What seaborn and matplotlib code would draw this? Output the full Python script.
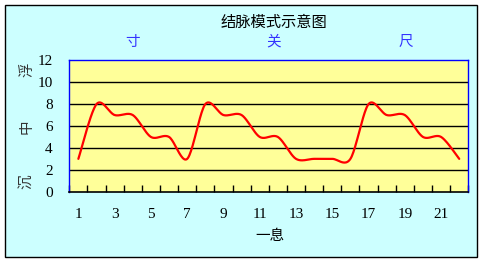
import numpy as np
import pandas as pd
import matplotlib
matplotlib.use("Agg")
import matplotlib.pyplot as plt
from matplotlib.patches import Rectangle
from matplotlib.ticker import FixedLocator
import seaborn as sns

# ---- data ----
breaths = list(range(1, 23))
pulse = [3, 8, 7, 7, 5, 5, 3, 8, 7, 7, 5, 5, 3, 3, 3, 3, 8, 7, 7, 5, 5, 3]
title = "结脉模式示意图"
positions = ["寸", "关", "尺"]
depth_labels = ["浮", "中", "沉"]
x_label = "一息"
y_ticks = [0, 2, 4, 6, 8, 10, 12]
x_ticklabels = [1, 3, 5, 7, 9, 11, 13, 15, 17, 19, 21]

sns.set_theme(style="white")
plt.rcParams['font.family'] = ['Noto Sans CJK SC', 'DejaVu Sans']

W, H = 484, 263
fig = plt.figure(figsize=(W / 100, H / 100), dpi=100)
fig.patch.set_facecolor("white")
fig.patches.append(Rectangle((5 / W, 1 - 257 / H), 472 / W, 252 / H,
                             transform=fig.transFigure, facecolor="#CCFFFF",
                             edgecolor="black", linewidth=1.0, zorder=-10))

ax = fig.add_axes([69.3 / W, 1 - 191.7 / H, 399 / W, 131.4 / H])
ax.set_zorder(1)
ax.set_facecolor("#FFFF99")


# smoothed (Excel-like) curve rendered from the data
def smooth(xs, ys, n=24, k=6.5):
    xs = np.asarray(xs, float)
    ys = np.asarray(ys, float)
    P = np.column_stack([xs, ys])
    out = []
    for i in range(len(P) - 1):
        p0 = P[i - 1] if i > 0 else P[i]
        p1 = P[i]
        p2 = P[i + 1]
        p3 = P[i + 2] if i + 2 < len(P) else P[i + 1]
        c1 = p1 + (p2 - p0) / k
        c2 = p2 - (p3 - p1) / k
        t = np.linspace(0, 1, n)[:, None]
        seg = ((1 - t) ** 3) * p1 + 3 * ((1 - t) ** 2) * t * c1 + 3 * (1 - t) * t ** 2 * c2 + t ** 3 * p2
        out.append(seg if i == 0 else seg[1:])
    out = np.vstack(out)
    return out[:, 0], out[:, 1]


sx, sy = smooth(breaths, pulse)
df = pd.DataFrame({"x": sx, "y": sy})
sns.lineplot(data=df, x="x", y="y", sort=False, color="#FF0000", linewidth=1.6, ax=ax, zorder=3)

ax.set_xlim(0.5, 22.5)
ax.set_ylim(0, 12)
for v in y_ticks[1:-1]:
    ax.axhline(v, color="black", linewidth=1.0, zorder=1)

ax.set_yticks(y_ticks)
ax.set_yticklabels([str(v) for v in y_ticks], fontfamily="Liberation Serif", fontsize=11)
ax.set_xticks(x_ticklabels)
ax.set_xticklabels([str(v) for v in x_ticklabels], fontfamily="Liberation Serif", fontsize=11)
ax.xaxis.set_minor_locator(FixedLocator(np.arange(0.5, 23, 1.0)))
ax.tick_params(axis="x", which="major", length=0, pad=12, colors="black")
ax.tick_params(axis="x", which="minor", length=5, width=1, direction="in", color="black", bottom=True)
ax.tick_params(axis="y", which="major", length=0, pad=12, colors="black")
ax.set_xlabel("")
ax.set_ylabel("")

for side in ["left", "top", "right"]:
    ax.spines[side].set_color("#0000FF")
    ax.spines[side].set_linewidth(1.0)
ax.spines["bottom"].set_color("black")
ax.spines["bottom"].set_linewidth(1.2)

def ft(x, y, s, **kw):
    fig.text(x / W, 1 - y / H, s, ha="center", va="center", **kw)

ft(274, 22.7, title, fontsize=11, color="black")
for px, s in zip([133, 274, 406], positions):
    ft(px, 41.7, s, fontsize=10.5, color="#3333FF")
for py, s in zip([70, 127, 182], depth_labels):
    ft(27, py, s, fontsize=10.5, color="#333333", rotation=90)
ft(270, 236, x_label, fontsize=10.5, color="black")

fig.savefig("out.png", dpi=100, facecolor=fig.get_facecolor())
